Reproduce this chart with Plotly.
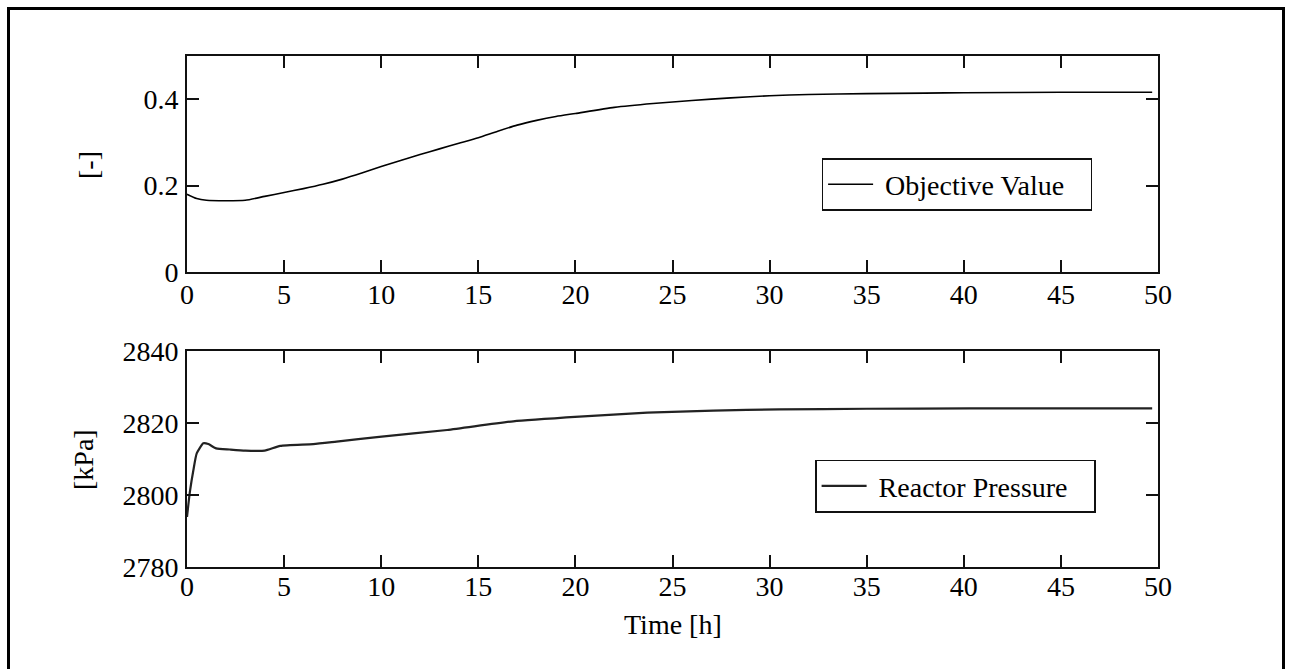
import plotly.graph_objects as go

# ---- data ----
obj_t = [0, 0.5, 1, 2, 3, 4, 5, 6, 7, 8, 9, 10, 11, 12, 13, 14, 15, 16, 17, 18, 19, 20,
         22, 24, 26, 28, 30, 32, 35, 38, 40, 45, 49.7]
obj_v = [0.180, 0.170, 0.166, 0.165, 0.166, 0.175, 0.184, 0.193, 0.203, 0.215, 0.229, 0.244,
         0.258, 0.272, 0.285, 0.298, 0.311, 0.326, 0.340, 0.351, 0.360, 0.367,
         0.381, 0.390, 0.397, 0.403, 0.408, 0.411, 0.413, 0.414, 0.415, 0.416, 0.416]

pr_t = [0, 0.15, 0.33, 0.5, 0.84, 1.1, 1.5, 2.2, 3.0, 4.0, 4.8, 6.5, 7.7, 9.9, 13.4, 16.8,
        20.2, 23.7, 27.1, 30.5, 35, 40.3, 45, 49.7]
pr_v = [2793.9, 2800.9, 2806.9, 2811.5, 2814.3, 2814.1, 2812.9, 2812.6, 2812.3, 2812.3,
        2813.6, 2814.1, 2814.8, 2816.1, 2818.0, 2820.4, 2821.7, 2822.8, 2823.4, 2823.7,
        2823.9, 2824.0, 2824.0, 2824.0]

obj_name = "Objective Value"
pr_name = "Reactor Pressure"
x_ticks = [0, 5, 10, 15, 20, 25, 30, 35, 40, 45, 50]
obj_ticks = [0, 0.2, 0.4]
pr_ticks = [2780, 2800, 2820, 2840]

FONT = "Liberation Serif"
FS = 28
NB = "\u00a0"

fig = go.Figure()
fig.add_trace(go.Scatter(x=obj_t, y=obj_v, mode="lines", name=NB + obj_name + NB * 3,
                         line=dict(color="black", width=1.6, shape="spline", smoothing=0.6),
                         xaxis="x", yaxis="y", legend="legend"))
fig.add_trace(go.Scatter(x=pr_t, y=pr_v, mode="lines", name=NB + pr_name + NB * 3,
                         line=dict(color="#222222", width=2.2, shape="spline", smoothing=0.5),
                         xaxis="x2", yaxis="y2", legend="legend2"))

W, H = 1291, 669
L, R, T, B = 187, 1291 - 1158, 56, 669 - 567
pw, ph = W - L - R, H - T - B

def px_x(x):
    return (x - L) / pw

def px_y(y):
    return (H - B - y) / ph

axis_common = dict(showline=True, linecolor="#111111", linewidth=1.6, mirror="ticks",
                   ticks="inside", ticklen=12, tickwidth=1.6, tickcolor="#111111",
                   showgrid=False, zeroline=False,
                   tickfont=dict(family=FONT, size=FS, color="black"))

top_dom = [px_y(272), 1.0]
bot_dom = [0.0, px_y(350.7)]

fig.update_layout(
    width=W, height=H,
    margin=dict(l=L, r=R, t=T, b=B),
    paper_bgcolor="white", plot_bgcolor="white",
    font=dict(family=FONT, size=FS, color="black"),
    showlegend=True,
    xaxis=dict(domain=[0, 1], range=[0, 50], tickvals=x_ticks, anchor="y",
               ticklabelstandoff=-3, **axis_common),
    yaxis=dict(domain=top_dom, range=[0, 0.5], tickvals=obj_ticks,
               ticktext=["0", "0.2", "0.4"], anchor="x",
               ticklabelstandoff=1, **axis_common),
    xaxis2=dict(domain=[0, 1], range=[0, 50], tickvals=x_ticks, anchor="y2",
                ticklabelstandoff=-6, **axis_common),
    yaxis2=dict(domain=bot_dom, range=[2780, 2840], tickvals=pr_ticks, anchor="x2",
                ticklabelstandoff=1, **axis_common),
    legend=dict(x=px_x(957), y=px_y(184.5), xanchor="center", yanchor="middle",
                bgcolor="white", bordercolor="#111111", borderwidth=1.6,
                font=dict(family=FONT, size=FS, color="black"), itemwidth=45,
                tracegroupgap=0),
    legend2=dict(x=px_x(955.5), y=px_y(486), xanchor="center", yanchor="middle",
                 bgcolor="white", bordercolor="#111111", borderwidth=1.6,
                 font=dict(family=FONT, size=FS, color="black"), itemwidth=45,
                 tracegroupgap=0),
)

fig.add_annotation(text="[-]", x=px_x(88), y=px_y(165), xref="paper", yref="paper",
                   xanchor="center", yanchor="middle",
                   textangle=-90, showarrow=False, font=dict(family=FONT, size=FS))
fig.add_annotation(text="[kPa]", x=px_x(83), y=px_y(460), xref="paper", yref="paper",
                   xanchor="center", yanchor="middle",
                   textangle=-90, showarrow=False, font=dict(family=FONT, size=FS))
fig.add_annotation(text="Time [h]", x=px_x(673), y=px_y(625), xref="paper", yref="paper",
                   xanchor="center", yanchor="middle",
                   showarrow=False, font=dict(family=FONT, size=FS))

# outer frame
fig.add_shape(type="rect", xref="paper", yref="paper",
              x0=px_x(8.5), x1=px_x(1283.5), y0=px_y(720), y1=px_y(8.5),
              line=dict(color="black", width=3), fillcolor="rgba(0,0,0,0)", layer="below")

fig.write_html("out.html")
